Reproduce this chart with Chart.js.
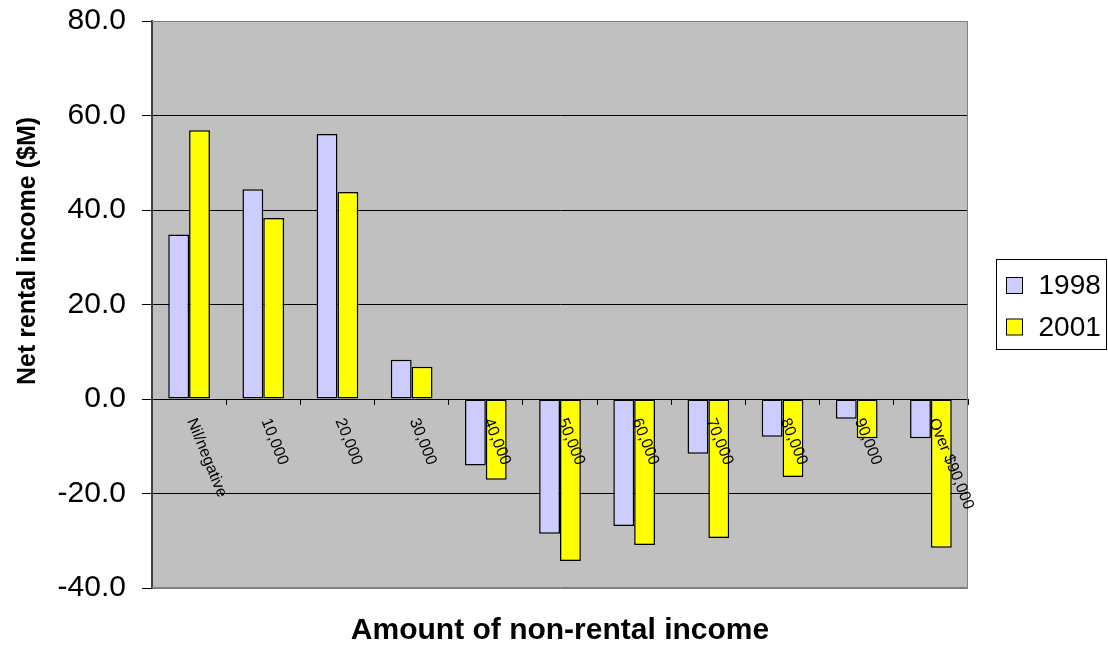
<!DOCTYPE html>
<html>
<head>
<meta charset="utf-8">
<script src="https://cdn.jsdelivr.net/npm/chart.js@4.4.1/dist/chart.umd.min.js"></script>
<style>
  html, body { margin: 0; padding: 0; background: #ffffff; }
  #wrap { width: 1108px; height: 655px; position: relative; }
</style>
</head>
<body>
<div id="wrap"><canvas id="chart" width="1108" height="655"></canvas></div>
<script>
// Net rental income ($M) by amount of non-rental income
const categories = ['Nil/negative', '10,000', '20,000', '30,000', '40,000', '50,000',
                    '60,000', '70,000', '80,000', '90,000', 'Over $90,000'];
const seriesNames = ['1998', '2001'];
const values1998 = [34.8, 44.4, 56.1, 8.3, -14.1, -28.5, -26.9, -11.6, -8.0, -4.2, -8.3];
const values2001 = [56.9, 38.3, 43.8, 6.8, -17.1, -34.3, -30.9, -29.4, -16.5, -8.3, -31.5];
const yTickValues = [-40, -20, 0, 20, 40, 60, 80];
const xTitle = 'Amount of non-rental income';
const yTitle = 'Net rental income ($M)';

const FONT = '"Liberation Sans", Arial, sans-serif';

// Grey plot background and plot-area frame
const plotBackground = {
  id: 'plotBackground',
  beforeDraw(chart) {
    const { ctx, chartArea: a } = chart;
    ctx.save();
    ctx.fillStyle = '#c0c0c0';
    ctx.fillRect(a.left, a.top, a.right - a.left, a.bottom - a.top);
    ctx.restore();
  },
  afterDatasetsDraw(chart) {
    const { ctx, chartArea: a } = chart;
    ctx.save();
    ctx.strokeStyle = '#808080';
    ctx.lineWidth = 1;
    ctx.beginPath();
    ctx.moveTo(a.left, Math.round(a.top) + 0.5);
    ctx.lineTo(Math.round(a.right) - 0.5, Math.round(a.top) + 0.5);
    ctx.lineTo(Math.round(a.right) - 0.5, Math.round(a.bottom) - 0.5);
    ctx.lineTo(a.left, Math.round(a.bottom) - 0.5);
    ctx.stroke();
    ctx.restore();
  }
};

// Category labels hang from the zero line, rotated clockwise
const categoryLabels = {
  id: 'categoryLabels',
  afterDatasetsDraw(chart) {
    const { ctx } = chart;
    const xs = chart.scales.x, ys = chart.scales.y;
    const y0 = ys.getPixelForValue(0);
    ctx.save();
    ctx.font = '16px ' + FONT;
    ctx.fillStyle = '#000';
    ctx.textAlign = 'left';
    ctx.textBaseline = 'middle';
    chart.data.labels.forEach((lab, i) => {
      const x = xs.getPixelForValue(i);
      ctx.save();
      ctx.translate(x + 2, y0 + 20);
      ctx.rotate(68 * Math.PI / 180);
      ctx.fillText(lab, 0, 0);
      ctx.restore();
    });
    ctx.restore();
  }
};

// Axis titles and boxed legend
const titlesAndLegend = {
  id: 'titlesAndLegend',
  afterDraw(chart) {
    const { ctx, chartArea: a } = chart;
    ctx.save();
    ctx.fillStyle = '#000';

    ctx.font = 'bold 30px ' + FONT;
    ctx.textAlign = 'center';
    ctx.textBaseline = 'alphabetic';
    ctx.fillText(xTitle, (a.left + a.right) / 2, 639);

    ctx.save();
    ctx.translate(28, 251);
    ctx.rotate(-Math.PI / 2);
    ctx.font = 'bold 25px ' + FONT;
    ctx.textBaseline = 'middle';
    ctx.fillText(yTitle, 0, 0);
    ctx.restore();

    const bx = Math.round(a.right) + 28.5, by = 259.5, bw = 110, bh = 90;
    ctx.fillStyle = '#ffffff';
    ctx.fillRect(bx, by, bw, bh);
    ctx.strokeStyle = '#000';
    ctx.lineWidth = 1;
    ctx.strokeRect(bx, by, bw, bh);

    ctx.font = '28px ' + FONT;
    ctx.textAlign = 'left';
    ctx.textBaseline = 'middle';
    chart.data.datasets.forEach((ds, i) => {
      const cy = by + 26 + i * 41.5;
      ctx.fillStyle = ds.backgroundColor;
      ctx.fillRect(bx + 10, cy - 8, 16, 16);
      ctx.strokeStyle = '#000';
      ctx.strokeRect(bx + 10, cy - 8, 16, 16);
      ctx.fillStyle = '#000';
      ctx.fillText(ds.label, bx + 42, cy + 1);
    });
    ctx.restore();
  }
};

const barStyle = {
  borderColor: '#000000',
  borderWidth: 1.5,
  borderSkipped: false,
  categoryPercentage: 0.562,
  barPercentage: 1.0
};

new Chart(document.getElementById('chart'), {
  type: 'bar',
  data: {
    labels: categories,
    datasets: [
      Object.assign({ label: seriesNames[0], data: values1998, backgroundColor: '#ccccff' }, barStyle),
      Object.assign({ label: seriesNames[1], data: values2001, backgroundColor: '#ffff00' }, barStyle)
    ]
  },
  options: {
    responsive: false,
    devicePixelRatio: 1,
    animation: false,
    layout: { padding: { left: 0, top: 21, right: 140, bottom: 67 } },
    plugins: {
      legend: { display: false },
      tooltip: { enabled: false },
      title: { display: false }
    },
    scales: {
      x: {
        position: { y: 0 },
        offset: true,
        grid: { offset: true, drawOnChartArea: false, drawTicks: true, tickLength: 5, color: '#000' },
        border: { display: true, color: '#000', width: 1 },
        ticks: { display: false }
      },
      y: {
        min: -40,
        max: 80,
        afterBuildTicks(scale) { scale.ticks = yTickValues.map(v => ({ value: v })); },
        afterFit(scale) {
          scale.width = 152;
          scale.paddingTop = 0;
          scale.paddingBottom = 0;
        },
        ticks: {
          font: { family: FONT, size: 30 },
          color: '#000',
          padding: 16,
          callback: v => Number(v).toFixed(1)
        },
        grid: {
          color: c => (c.tick && (c.tick.value === -40 || c.tick.value === 80)) ? '#808080' : '#000000',
          lineWidth: 1,
          drawTicks: true,
          tickLength: 10,
          tickColor: '#000'
        },
        border: { display: true, color: '#404040', width: 2 }
      }
    }
  },
  plugins: [plotBackground, categoryLabels, titlesAndLegend]
});
</script>
</body>
</html>
